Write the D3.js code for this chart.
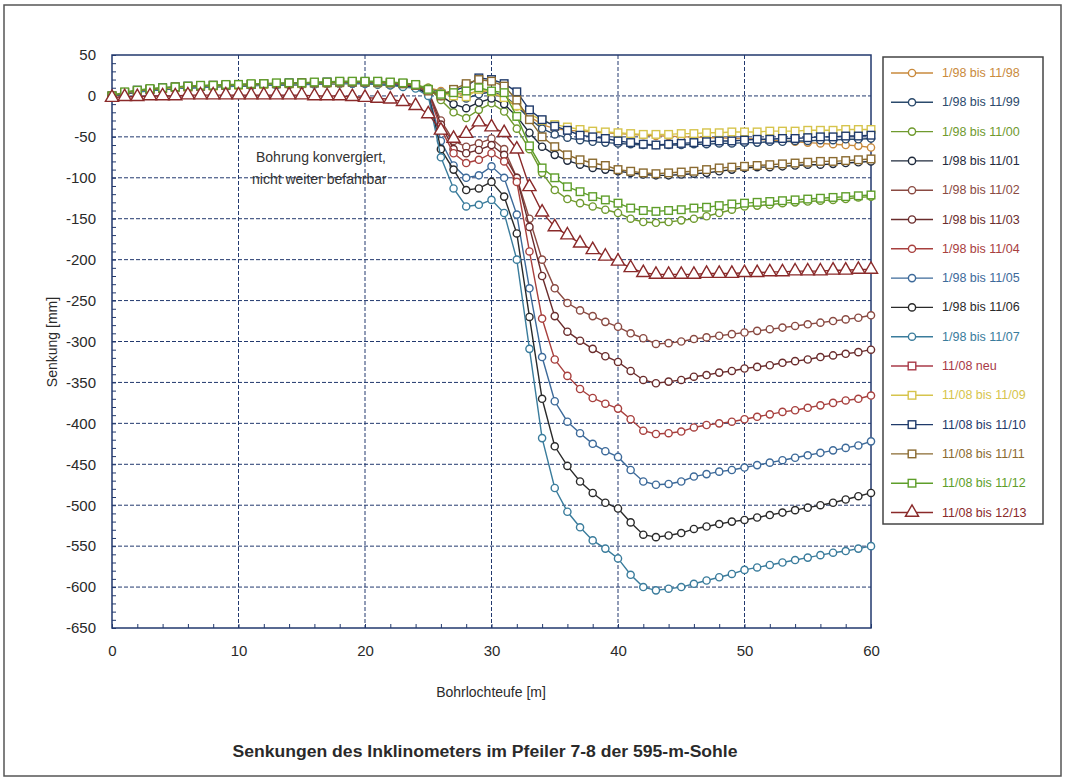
<!DOCTYPE html>
<html>
<head>
<meta charset="utf-8">
<script src="https://cdnjs.cloudflare.com/ajax/libs/d3/7.8.5/d3.min.js"></script>
<style>
  body { margin: 0; background: #fff; }
  svg { display: block; font-family: "Liberation Sans", Arial, sans-serif; }
</style>
</head>
<body>
<svg id="chart" width="1066" height="781"></svg>
<script>
// depth in metres, one reading per metre
var depths = d3.range(0, 61);

var yTicks = [50, 0, -50, -100, -150, -200, -250, -300, -350, -400, -450, -500, -550, -600, -650];
var xTicks = [0, 10, 20, 30, 40, 50, 60];

var seriesNames = [
  '1/98 bis 11/98', '1/98 bis 11/99', '1/98 bis 11/00', '1/98 bis 11/01',
  '1/98 bis 11/02', '1/98 bis 11/03', '1/98 bis 11/04', '1/98 bis 11/05',
  '1/98 bis 11/06', '1/98 bis 11/07', '11/08 neu', '11/08 bis 11/09',
  '11/08 bis 11/10', '11/08 bis 11/11', '11/08 bis 11/12', '11/08 bis 12/13'
];
var seriesColors = [
  '#c98a3c', '#2b4a6c', '#6f9a2e', '#1f2a3c',
  '#8a4a42', '#6a2c2c', '#a8403e', '#3d6a9a',
  '#2a2a2a', '#3a7c9c', '#a83a48', '#d6c44c',
  '#1f3a6a', '#8a6a30', '#5e9e2a', '#8a2a2a'
];
var seriesShapes = ['circle', 'circle', 'circle', 'circle', 'circle', 'circle', 'circle', 'circle',
  'circle', 'circle', 'square', 'square', 'square', 'square', 'square', 'triangle'];

// settlement [mm]
var s1198 = [0,3,5,7,8,9,10,11,11,12,12,13,13,14,14,14,15,15,15,16,16,15,15,14,12,
  10,6,3,2,6,4,-3,-13,-25,-35,-40,
  -42,-43,-44,-45,-46,-47,-48,-49,-49,-50,-50,-51,-51,-52,-52,-53,-54,-55,-56,-57,-58,-59,-60,-61,-63];
var s1199 = [0,3,6,7,9,10,10,11,12,12,13,13,14,14,15,15,15,16,16,16,17,16,15,14,12,
  9,4,0,-3,2,5,0,-12,-28,-40,-47,
  -51,-54,-56,-57,-58,-59,-60,-60,-60,-60,-59,-59,-58,-58,-57,-57,-56,-56,-55,-55,-54,-54,-53,-53,-52];
var s1100 = [0,4,6,8,9,10,11,12,12,13,13,14,14,15,15,16,16,16,17,17,17,17,16,15,13,
  10,-5,-20,-27,-17,-9,-19,-40,-65,-94,-115,
  -126,-131,-135,-139,-143,-150,-154,-155,-154,-152,-150,-147,-143,-139,-135,-134,-133,-131,-130,-129,-128,-127,-126,-124,-123];
var s1101 = [0,3,5,7,9,10,11,11,12,12,13,13,14,14,15,15,15,16,16,16,16,16,15,14,12,
  8,0,-10,-15,-8,-3,-10,-25,-45,-62,-72,
  -79,-84,-88,-90,-92,-94,-96,-97,-97,-96,-95,-94,-92,-90,-88,-87,-87,-86,-85,-84,-84,-83,-82,-81,-80];
var s1102 = [0,3,5,7,8,9,10,11,11,12,12,13,13,14,14,14,15,15,15,16,16,15,14,13,11,
  6,-30,-55,-62,-58,-52,-65,-100,-150,-200,-235,
  -253,-262,-269,-276,-282,-290,-296,-303,-302,-300,-297,-295,-293,-291,-289,-287,-285,-283,-281,-279,-277,-275,-273,-271,-268];
var s1103 = [0,3,5,7,8,10,10,11,12,12,13,13,14,14,14,15,15,15,16,16,16,15,14,13,11,
  5,-35,-65,-70,-66,-60,-72,-100,-160,-220,-269,
  -288,-299,-309,-318,-325,-336,-347,-351,-349,-347,-343,-341,-338,-336,-333,-331,-329,-326,-324,-322,-319,-317,-315,-313,-310];
var s1104 = [0,3,5,7,8,9,10,11,12,12,12,13,13,14,14,15,15,15,16,16,16,15,14,13,11,
  4,-40,-70,-82,-78,-70,-80,-105,-190,-272,-322,
  -342,-358,-369,-376,-382,-395,-409,-413,-412,-410,-405,-402,-400,-398,-395,-392,-389,-386,-384,-381,-378,-375,-372,-370,-366];
var s1105 = [0,3,5,6,8,9,10,10,11,12,12,13,13,13,14,14,15,15,15,16,16,15,14,12,10,
  3,-55,-85,-100,-97,-86,-100,-145,-235,-319,-373,
  -398,-412,-425,-434,-441,-457,-471,-475,-474,-471,-465,-462,-459,-457,-454,-451,-448,-445,-442,-439,-436,-433,-430,-427,-422];
var s1106 = [0,3,5,7,8,9,10,11,11,12,12,13,13,14,14,14,15,15,15,15,15,14,13,12,10,
  2,-65,-90,-115,-113,-105,-123,-168,-270,-370,-428,
  -452,-471,-485,-497,-504,-521,-536,-539,-537,-534,-529,-526,-523,-520,-518,-515,-512,-509,-506,-503,-500,-497,-493,-489,-485];
var s1107 = [0,3,5,6,8,9,10,10,11,11,12,12,13,13,14,14,14,15,15,15,15,14,13,11,9,
  0,-75,-113,-135,-133,-127,-143,-200,-309,-418,-479,
  -508,-527,-543,-553,-565,-585,-600,-604,-602,-600,-596,-592,-588,-584,-579,-576,-573,-570,-567,-564,-561,-558,-556,-553,-550];
var s08neu = []; // reference reading, no points drawn
var s0809 = [0,4,6,8,9,10,11,12,12,13,13,14,14,15,15,15,16,16,16,17,17,16,16,15,13,
  8,3,0,-1,8,5,-2,-12,-22,-30,-35,
  -38,-41,-43,-44,-45,-46,-47,-47,-47,-46,-46,-45,-45,-44,-44,-44,-43,-43,-43,-42,-42,-42,-41,-41,-41];
var s0810 = [0,4,7,8,10,11,12,12,13,13,14,14,15,15,16,16,16,17,17,17,17,17,16,15,13,
  7,2,6,12,22,20,15,5,-17,-29,-37,
  -42,-48,-50,-52,-55,-57,-59,-60,-59,-58,-57,-56,-55,-55,-54,-53,-53,-52,-52,-51,-50,-50,-49,-49,-48];
var s0811 = [0,4,6,8,9,11,11,12,13,13,14,14,15,15,15,16,16,16,17,17,17,17,16,15,13,
  6,0,8,15,20,18,12,-5,-29,-50,-62,
  -72,-78,-82,-85,-90,-92,-94,-95,-94,-93,-92,-90,-88,-87,-86,-85,-84,-83,-82,-81,-80,-80,-79,-78,-77];
var s0812 = [0,5,7,9,10,11,12,13,13,14,14,15,15,16,16,16,17,17,18,18,18,18,17,16,14,
  8,2,4,6,10,6,4,-25,-61,-88,-100,
  -111,-117,-123,-127,-131,-137,-140,-141,-140,-139,-137,-136,-134,-132,-131,-130,-129,-128,-127,-126,-125,-124,-123,-122,-121];
var s0813 = [-2,-1,-1,0,0,0,1,1,1,1,1,1,1,1,1,1,0,0,0,-1,-2,-3,-4,-7,-12,
  -22,-42,-52,-46,-32,-38,-45,-65,-111,-142,-160,
  -170,-180,-188,-196,-202,-210,-216,-218,-218,-218,-218,-217,-217,-217,-216,-216,-215,-215,-214,-214,-214,-213,-213,-212,-212];

var seriesValues = [s1198, s1199, s1100, s1101, s1102, s1103, s1104, s1105, s1106, s1107,
  s08neu, s0809, s0810, s0811, s0812, s0813];

var svg = d3.select('#chart');
var gridColor = '#22396e';
var textColor = '#2a2a2a';

// outer frame
svg.append('rect')
  .attr('x', 4).attr('y', 5).attr('width', 1057).attr('height', 771)
  .attr('fill', 'none').attr('stroke', '#555').attr('stroke-width', 1.5);

var x = d3.scaleLinear().domain([0, 60]).range([112, 871]);
var y = d3.scaleLinear().domain([-650, 50]).range([628, 55]);

// grid
svg.append('g').selectAll('line').data(xTicks.slice(1, -1)).enter().append('line')
  .attr('x1', function(d){ return x(d); }).attr('x2', function(d){ return x(d); })
  .attr('y1', y(50)).attr('y2', y(-650))
  .attr('stroke', gridColor).attr('stroke-width', 1).attr('stroke-dasharray', '4,2');
svg.append('g').selectAll('line').data(yTicks.slice(1, -1)).enter().append('line')
  .attr('x1', x(0)).attr('x2', x(60))
  .attr('y1', function(d){ return y(d); }).attr('y2', function(d){ return y(d); })
  .attr('stroke', gridColor).attr('stroke-width', 1).attr('stroke-dasharray', '4,2');

// minor ticks inside the frame
svg.append('g').attr('transform', 'translate(' + x(0) + ',0)')
  .call(d3.axisRight(y).ticks(70).tickSize(4).tickFormat(''))
  .call(function(g){ g.select('.domain').remove(); g.selectAll('line').attr('stroke', gridColor); });
svg.append('g').attr('transform', 'translate(0,' + y(-650) + ')')
  .call(d3.axisTop(x).ticks(30).tickSize(4).tickFormat(''))
  .call(function(g){ g.select('.domain').remove(); g.selectAll('line').attr('stroke', gridColor); });

// tick labels (plain hyphen as minus, like the original)
function plain(d){ return String(d); }
svg.append('g').attr('transform', 'translate(' + (x(0) - 16) + ',0)')
  .call(d3.axisLeft(y).tickValues(yTicks).tickSize(0).tickPadding(0).tickFormat(plain))
  .call(function(g){
    g.select('.domain').remove();
    g.selectAll('text').attr('font-size', 15).attr('fill', textColor).attr('font-family', '"Liberation Sans", Arial, sans-serif');
  });
svg.append('g').attr('transform', 'translate(0,' + (y(-650) + 17) + ')')
  .call(d3.axisBottom(x).tickValues(xTicks).tickSize(0).tickPadding(0).tickFormat(plain))
  .call(function(g){
    g.select('.domain').remove();
    g.selectAll('text').attr('font-size', 15).attr('fill', textColor).attr('font-family', '"Liberation Sans", Arial, sans-serif');
  });

// plot frame
svg.append('rect')
  .attr('x', x(0)).attr('y', y(50)).attr('width', x(60) - x(0)).attr('height', y(-650) - y(50))
  .attr('fill', 'none').attr('stroke', gridColor).attr('stroke-width', 1.5);

// axis titles
svg.append('text').attr('x', 491).attr('y', 697).attr('text-anchor', 'middle')
  .attr('font-size', 14).attr('fill', textColor).text('Bohrlochteufe [m]');
svg.append('text').attr('transform', 'translate(57,342) rotate(-90)').attr('text-anchor', 'middle')
  .attr('font-size', 14).attr('fill', textColor).text('Senkung [mm]');
svg.append('text').attr('x', 485).attr('y', 757).attr('text-anchor', 'middle')
  .attr('font-size', 16).attr('font-weight', 'bold').attr('fill', textColor)
  .attr('textLength', 505).attr('lengthAdjust', 'spacingAndGlyphs')
  .text('Senkungen des Inklinometers im Pfeiler 7-8 der 595-m-Sohle');

// note inside the plot
var note = svg.append('text').attr('font-size', 14).attr('fill', '#333');
note.append('tspan').attr('x', 256).attr('y', 162).text('Bohrung konvergiert,');
note.append('tspan').attr('x', 252).attr('y', 184).text('nicht weiter befahrbar');

var line = d3.line()
  .x(function(d){ return x(d[0]); })
  .y(function(d){ return y(d[1]); });

function drawMarker(g, shape, color) {
  if (shape === 'circle') {
    g.append('circle').attr('r', 3.6);
  } else if (shape === 'square') {
    g.append('rect').attr('x', -3.8).attr('y', -3.8).attr('width', 7.6).attr('height', 7.6);
  } else {
    g.append('path').attr('d', d3.symbol().type(d3.symbolTriangle).size(75)());
  }
  g.selectAll('*').attr('fill', '#fff').attr('stroke', color).attr('stroke-width', 1.4);
}

seriesValues.forEach(function(vals, i){
  var pts = vals.map(function(v, j){ return [depths[j], v]; });
  var g = svg.append('g');
  g.append('path').datum(pts)
    .attr('d', line).attr('fill', 'none')
    .attr('stroke', seriesColors[i]).attr('stroke-width', 1.4);
  g.selectAll('g').data(pts).enter().append('g')
    .attr('transform', function(d){ return 'translate(' + x(d[0]) + ',' + y(d[1]) + ')'; })
    .each(function(){ drawMarker(d3.select(this), seriesShapes[i], seriesColors[i]); });
});

// legend
var legend = svg.append('g');
legend.append('rect').attr('x', 883).attr('y', 57).attr('width', 160).attr('height', 467)
  .attr('fill', '#fff').attr('stroke', '#444').attr('stroke-width', 1.5);
seriesNames.forEach(function(name, i){
  var ly = 73 + i * 29.3;
  var row = legend.append('g');
  row.append('line').attr('x1', 891).attr('x2', 933).attr('y1', ly).attr('y2', ly)
    .attr('stroke', seriesColors[i]).attr('stroke-width', 1.4);
  var m = row.append('g').attr('transform', 'translate(912,' + ly + ')');
  drawMarker(m, seriesShapes[i], seriesColors[i]);
  row.append('text').attr('x', 942).attr('y', ly + 4).attr('font-size', 12.5)
    .attr('fill', seriesColors[i]).text(name);
});
</script>
</body>
</html>
